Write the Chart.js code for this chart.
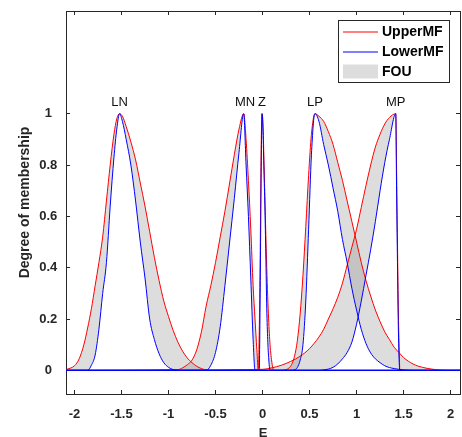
<!DOCTYPE html>
<html><head><meta charset="utf-8">
<script src="https://cdn.jsdelivr.net/npm/chart.js@4.4.1/dist/chart.umd.min.js"></script>
<style>html,body{margin:0;padding:0;background:#fff;}#wrap{width:462px;height:437px;}</style>
</head><body><div id="wrap"><canvas id="c" width="462" height="437"></canvas></div>
<script>
// Fuzzy set names and label positions
const setNames = ['LN','MN','Z','LP','MP'];
const labelX = [-1.52, -0.186, -0.005, 0.557, 1.417];
const labelY = 1.045;

// LN
const lnX = [-2.09,-2.0,-1.95,-1.9,-1.86,-1.82,-1.78,-1.74,-1.7,-1.66,-1.62,-1.58,-1.55,-1.52,-1.49,-1.45,-1.4,-1.35,-1.3,-1.25,-1.2,-1.15,-1.1,-1.05,-1.0,-0.95,-0.9,-0.85,-0.8,-0.75,-0.7,-0.65,-0.6,-0.55,2.1];
const lnUpper = [0.003,0.018,0.045,0.10,0.165,0.24,0.33,0.42,0.52,0.66,0.80,0.92,0.98,1.0,0.99,0.95,0.89,0.82,0.73,0.64,0.54,0.44,0.35,0.27,0.21,0.155,0.11,0.075,0.048,0.03,0.016,0.007,0.002,0,0];
const lnLower = [0,0,0,0,0,0.02,0.06,0.16,0.30,0.42,0.64,0.83,0.94,1.0,0.97,0.90,0.80,0.66,0.50,0.36,0.20,0.12,0.065,0.03,0.012,0.003,0,0,0,0,0,0,0,0,0];
// MN
const mnX = [-2.09,-0.9,-0.85,-0.8,-0.75,-0.7,-0.65,-0.6,-0.55,-0.5,-0.45,-0.4,-0.35,-0.3,-0.25,-0.2,-0.175,-0.15,-0.125,-0.1,-0.08,-0.06,-0.045,2.1];
const mnUpper = [0,0.003,0.01,0.022,0.04,0.08,0.15,0.25,0.33,0.42,0.52,0.62,0.73,0.84,0.94,1.0,0.9,0.74,0.55,0.33,0.2,0.08,0,0];
const mnLower = [0,0,0,0,0,0,0,0,0.02,0.07,0.17,0.33,0.5,0.67,0.85,1.0,0.8,0.6,0.36,0.12,0,0,0,0];
// Z
const zX = [-2.09,-0.045,-0.035,-0.025,-0.015,-0.005,0.005,0.015,0.025,0.035,0.045,0.055,0.065,0.08,0.1,0.12,2.1];
const zUpper = [0,0,0.15,0.45,0.85,1,0.96,0.82,0.68,0.53,0.40,0.29,0.2,0.1,0.03,0,0];
const zLower = [0,0,0,0.3,0.75,1,0.93,0.78,0.64,0.45,0.24,0.12,0.05,0,0,0,0];
// LP
const lpX = [-2.09,0.2,0.25,0.28,0.31,0.34,0.37,0.4,0.43,0.46,0.49,0.52,0.557,0.6,0.65,0.7,0.75,0.8,0.85,0.9,0.95,1.0,1.05,1.1,1.15,1.2,1.25,1.3,1.35,1.4,1.45,1.5,1.6,1.7,1.8,1.9,2.0,2.1];
const lpUpper = [0,0,0.003,0.009,0.023,0.055,0.115,0.22,0.37,0.56,0.76,0.92,1,0.99,0.97,0.93,0.88,0.81,0.74,0.66,0.58,0.50,0.42,0.35,0.29,0.235,0.19,0.15,0.12,0.09,0.07,0.05,0.025,0.012,0.005,0.001,0,0];
const lpLower = [0,0,0,0,0,0.002,0.011,0.04,0.10,0.27,0.55,0.84,1,0.97,0.88,0.8,0.71,0.62,0.51,0.42,0.32,0.235,0.16,0.105,0.068,0.045,0.03,0.018,0.011,0.007,0.004,0.002,0,0,0,0,0,0];
// MP
const mpX = [-2.09,0.0,0.1,0.2,0.3,0.4,0.5,0.6,0.65,0.7,0.75,0.8,0.85,0.9,0.95,1.0,1.05,1.1,1.15,1.2,1.25,1.3,1.35,1.417,1.425,1.435,1.445,1.455,1.46,2.1];
const mpUpper = [0,0.004,0.01,0.02,0.035,0.055,0.085,0.13,0.16,0.2,0.24,0.285,0.34,0.41,0.48,0.55,0.635,0.72,0.80,0.87,0.92,0.96,0.985,1,0.8,0.5,0.22,0.06,0,0];
const mpLower = [0,0,0,0,0,0,0,0,0.002,0.005,0.012,0.025,0.045,0.07,0.11,0.18,0.27,0.37,0.47,0.58,0.70,0.81,0.90,1,0.72,0.42,0.15,0.02,0,0];

// Axes
const xTickValues = [-2,-1.5,-1,-0.5,0,0.5,1,1.5,2];
const xTickLabels = ['-2','-1.5','-1','-0.5','0','0.5','1','1.5','2'];
const yTickValues = [0,0.2,0.4,0.6,0.8,1];
const yTickLabels = ['0','0.2','0.4','0.6','0.8','1'];
const legendLabels = ['UpperMF','LowerMF','FOU'];

const upperColor = '#ff0000', lowerColor = '#0000ff', fouColor = 'rgba(128,128,128,0.27)';
const axisColor = '#262626';
const FONT = '"Liberation Sans", Arial, sans-serif';

const setXs = [lnX, mnX, zX, lpX, mpX];
const setUp = [lnUpper, mnUpper, zUpper, lpUpper, mpUpper];
const setLo = [lnLower, mnLower, zLower, lpLower, mpLower];
const pts = (xs, ys) => xs.map((x, i) => ({x: x, y: ys[i]}));

const datasets = [];
setXs.forEach((xs, i) => datasets.push({
  label: 'LowerMF', data: pts(xs, setLo[i]), borderColor: lowerColor, borderWidth: 1,
  pointRadius: 0, fill: false, cubicInterpolationMode: 'monotone'
}));
setXs.forEach((xs, i) => datasets.push({
  label: 'UpperMF', data: pts(xs, setUp[i]), borderColor: upperColor, borderWidth: 1,
  pointRadius: 0, fill: '-5', backgroundColor: fouColor, cubicInterpolationMode: 'monotone'
}));

const setTicks = vals => s => { s.ticks = vals.map(v => ({value: v})); };

const annot = {
  id: 'annot',
  afterDatasetsDraw(chart) {
    const {ctx} = chart; const x = chart.scales.x, y = chart.scales.y;
    ctx.save();
    ctx.font = '13px ' + FONT; ctx.fillStyle = '#111'; ctx.textAlign = 'center'; ctx.textBaseline = 'middle';
    setNames.forEach((n, i) => ctx.fillText(n, x.getPixelForValue(labelX[i]), y.getPixelForValue(labelY)));
    ctx.restore();
  },
  afterDraw(chart) {
    const {ctx} = chart; const ca = chart.chartArea;
    const bx = Math.round(ca.right - 122) + 0.5, by = Math.round(ca.top + 9) + 0.5, bw = 111, bh = 62;
    ctx.save();
    ctx.fillStyle = '#fff'; ctx.fillRect(bx, by, bw, bh);
    ctx.strokeStyle = axisColor; ctx.lineWidth = 1; ctx.strokeRect(bx, by, bw, bh);
    const rows = [by + 11.5, by + 31.5, by + 51];
    ctx.lineWidth = 1;
    ctx.strokeStyle = upperColor; ctx.beginPath(); ctx.moveTo(bx + 4.5, rows[0]); ctx.lineTo(bx + 39.5, rows[0]); ctx.stroke();
    ctx.strokeStyle = lowerColor; ctx.beginPath(); ctx.moveTo(bx + 4.5, rows[1]); ctx.lineTo(bx + 39.5, rows[1]); ctx.stroke();
    ctx.fillStyle = fouColor; ctx.fillRect(bx + 4.5, rows[2] - 7, 35, 14);
    ctx.fillStyle = '#000'; ctx.font = 'bold 14px ' + FONT; ctx.textAlign = 'left'; ctx.textBaseline = 'middle';
    legendLabels.forEach((t, i) => ctx.fillText(t, bx + 43.5, rows[i] + 0.5));
    ctx.restore();
  }
};

const gridOpts = {drawOnChartArea: false, drawTicks: true, tickLength: -4, color: axisColor, tickColor: axisColor, lineWidth: 1};
const borderOpts = {display: true, color: axisColor, width: 1};

new Chart(document.getElementById('c'), {
  type: 'line',
  data: {datasets: datasets},
  plugins: [annot],
  options: {
    responsive: false, animation: false, devicePixelRatio: 1, events: [],
    layout: {padding: {left: 0, top: 11, right: 2, bottom: 0}},
    plugins: {legend: {display: false}, tooltip: {enabled: false}, filler: {drawTime: 'beforeDatasetsDraw'}},
    scales: {
      x: {
        type: 'linear', position: 'bottom', min: -2.09, max: 2.1,
        afterBuildTicks: setTicks(xTickValues),
        afterFit: s => { s.height = 43; s.paddingLeft = 0; s.paddingRight = 0; },
        grid: gridOpts, border: borderOpts,
        ticks: {color: axisColor, font: {family: FONT, size: 13, weight: 'bold'}, padding: 16.5, maxRotation: 0, autoSkip: false,
          callback: (v) => xTickLabels[xTickValues.indexOf(v)] ?? ''},
        title: {display: true, text: 'E', color: axisColor, font: {family: FONT, size: 13, weight: 'bold'}, padding: {top: 0, bottom: -4.5}}
      },
      x2: {
        type: 'linear', axis: 'x', position: 'top', min: -2.09, max: 2.1,
        afterBuildTicks: setTicks(xTickValues),
        afterFit: s => { s.height = 0; s.paddingLeft = 0; s.paddingRight = 0; },
        grid: gridOpts, border: borderOpts, ticks: {display: false}
      },
      y: {
        type: 'linear', position: 'left', min: -0.092, max: 1.4,
        afterBuildTicks: setTicks(yTickValues),
        afterFit: s => { s.width = 66; s.paddingTop = 0; s.paddingBottom = 0; },
        grid: gridOpts, border: borderOpts,
        ticks: {color: axisColor, font: {family: FONT, size: 13, weight: 'bold'}, padding: 12.7, crossAlign: 'center', autoSkip: false,
          callback: (v) => yTickLabels[yTickValues.indexOf(v)] ?? ''},
        title: {display: true, text: 'Degree of membership', color: axisColor, font: {family: FONT, size: 14, weight: 'bold'}, padding: {top: 16.6, bottom: 0}}
      },
      y2: {
        type: 'linear', axis: 'y', position: 'right', min: -0.092, max: 1.4,
        afterBuildTicks: setTicks(yTickValues),
        afterFit: s => { s.width = 0; s.paddingTop = 0; s.paddingBottom = 0; },
        grid: gridOpts, border: borderOpts, ticks: {display: false}
      }
    }
  }
});
</script>
</body></html>
